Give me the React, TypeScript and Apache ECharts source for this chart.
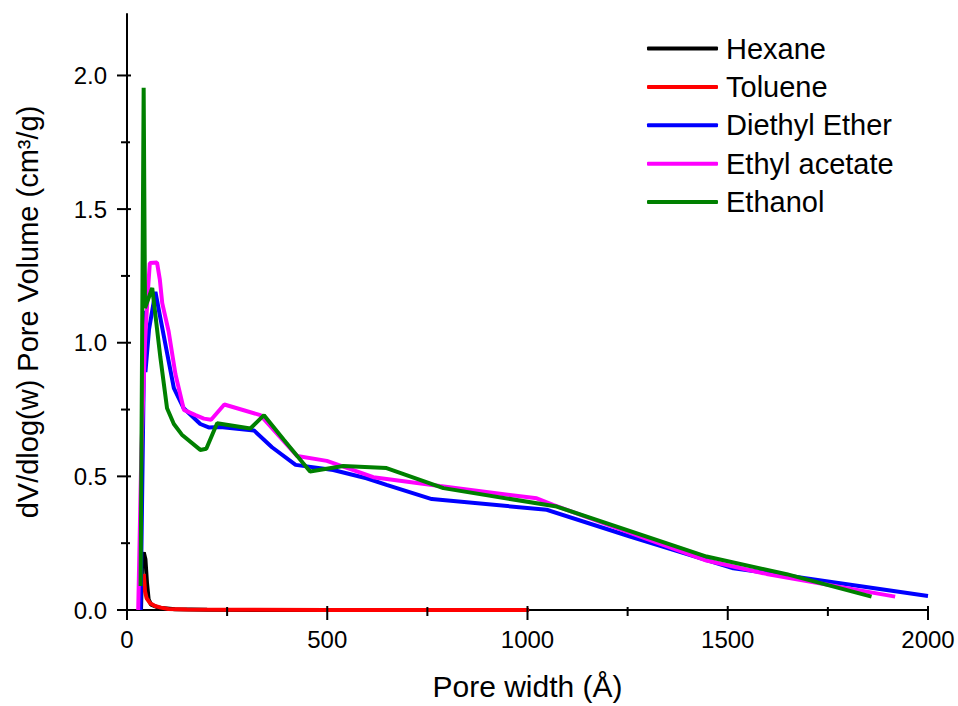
import React, { useEffect, useRef } from "react";
import * as echarts from "echarts";

// Pore width (Å) / dV/dlog(w) pairs
const hexaneX = [35, 38, 42, 46, 50, 54, 60, 80, 120, 200, 400, 700, 1000];
const hexaneY = [0.0, 0.2, 0.215, 0.19, 0.1, 0.04, 0.02, 0.008, 0.003, 0.001, 0.0, 0.0, 0.0];

const tolueneX = [42, 45, 49, 58, 70, 85, 103, 150, 250, 500, 1004];
const tolueneY = [0.135, 0.07, 0.044, 0.025, 0.015, 0.009, 0.004, 0.002, 0.001, 0.0, 0.0];

const etherX = [34, 44, 46, 55, 71, 83, 100, 117, 141, 183, 204, 233, 317, 362, 421, 515, 598, 648, 761, 1048, 1256, 1514, 1647, 2000];
const etherY = [0.0, 1.12, 0.89, 1.05, 1.19, 1.095, 0.962, 0.83, 0.756, 0.696, 0.683, 0.685, 0.672, 0.609, 0.543, 0.524, 0.493, 0.468, 0.415, 0.375, 0.275, 0.156, 0.129, 0.052];

const acetateX = [28, 36, 45, 52, 57, 75, 82, 88, 104, 121, 142, 171, 192, 210, 243, 333, 425, 499, 615, 781, 1023, 1064, 1181, 1447, 1597, 1918];
const acetateY = [0.0, 0.6, 1.0, 1.19, 1.298, 1.3, 1.236, 1.148, 1.042, 0.882, 0.749, 0.729, 0.716, 0.712, 0.769, 0.729, 0.576, 0.558, 0.497, 0.464, 0.418, 0.393, 0.33, 0.185, 0.135, 0.05];

const ethanolX = [34, 41.6, 45, 63, 83, 100, 117, 137, 183, 198, 225, 308, 342, 392, 457, 540, 648, 790, 1073, 1447, 1647, 1859];
const ethanolY = [0.09, 1.954, 1.13, 1.205, 0.949, 0.755, 0.696, 0.656, 0.599, 0.603, 0.699, 0.679, 0.729, 0.636, 0.518, 0.539, 0.531, 0.456, 0.387, 0.2, 0.134, 0.05];

const seriesNames = ["Hexane", "Toluene", "Diethyl Ether", "Ethyl acetate", "Ethanol"];
const seriesColors = ["#000000", "#ff0000", "#0000ff", "#ff00ff", "#008000"];

const xMajorTicks = [0, 500, 1000, 1500, 2000];
const xMinorTicks = [250, 750, 1250, 1750];
const yMajorTicks = [0, 0.5, 1.0, 1.5, 2.0];
const yMinorTicks = [0.25, 0.75, 1.25, 1.75];

const FONT = "'Liberation Sans', Arial, sans-serif";

function pairs(xs: number[], ys: number[]) {
  return xs.map((x, i) => [x, ys[i]]);
}

export default function App() {
  const ref = useRef<HTMLDivElement>(null);
  useEffect(() => {
    if (!ref.current) return;
    const chart = echarts.init(ref.current, undefined, { renderer: "svg" });
    const datasets = [
      pairs(hexaneX, hexaneY),
      pairs(tolueneX, tolueneY),
      pairs(etherX, etherY),
      pairs(acetateX, acetateY),
      pairs(ethanolX, ethanolY),
    ];
    // tick items: [x, y, kind]  kind 0 = x major, 1 = x minor, 2 = y major, 3 = y minor
    const tickData = [
      ...xMajorTicks.map((v) => [v, 0, 0]),
      ...xMinorTicks.map((v) => [v, 0, 1]),
      ...yMajorTicks.map((v) => [0, v, 2]),
      ...yMinorTicks.map((v) => [0, v, 3]),
    ];
    const lineSeries = seriesNames.map((name, i) => ({
      name,
      type: "line",
      data: datasets[i],
      showSymbol: false,
      symbol: "none",
      lineStyle: { color: seriesColors[i], width: 4 },
      itemStyle: { color: seriesColors[i] },
      z: 2 + i,
    }));
    chart.setOption({
      animation: false,
      backgroundColor: "#ffffff",
      grid: { left: 127, right: 30, top: 14, bottom: 96, containLabel: false },
      legend: {
        orient: "vertical",
        left: 642,
        top: 29,
        icon: "roundRect",
        itemWidth: 71,
        itemHeight: 4,
        itemGap: 9.4,
        data: seriesNames,
        textStyle: {
          fontFamily: FONT,
          fontSize: 29,
          lineHeight: 29,
          color: "#000",
          padding: [0, 0, 0, 3],
        },
      },
      xAxis: {
        type: "value",
        min: 0,
        max: 2000,
        interval: 500,
        name: "Pore width (Å)",
        nameLocation: "middle",
        nameGap: 61,
        nameTextStyle: { fontFamily: FONT, fontSize: 30, color: "#000" },
        axisLine: { show: true, onZero: false, lineStyle: { color: "#000", width: 2 } },
        axisTick: { show: false },
        axisLabel: {
          fontFamily: FONT,
          fontSize: 24,
          color: "#000",
          margin: 17,
          formatter: (v: number) => String(v),
        },
        splitLine: { show: false },
      },
      yAxis: {
        type: "value",
        min: 0,
        max: 2.23,
        interval: 0.5,
        name: "dV/dlog(w) Pore Volume (cm³/g)",
        nameLocation: "middle",
        nameGap: 85,
        nameRotate: 90,
        nameTextStyle: { fontFamily: FONT, fontSize: 29, color: "#000" },
        axisLine: { show: true, onZero: false, lineStyle: { color: "#000", width: 2 } },
        axisTick: { show: false },
        axisLabel: {
          fontFamily: FONT,
          fontSize: 24,
          color: "#000",
          margin: 20,
          showMaxLabel: false,
          formatter: (v: number) => (Math.abs(v * 2 - Math.round(v * 2)) < 1e-6 ? v.toFixed(1) : ""),
        },
        splitLine: { show: false },
      },
      series: [
        ...lineSeries,
        {
          type: "custom",
          name: "ticks",
          coordinateSystem: "cartesian2d",
          clip: false,
          silent: true,
          z: 10,
          data: tickData,
          renderItem: (params: any, api: any) => {
            const kind = Number(api.value(2));
            const p = api.coord([api.value(0), api.value(1)]);
            const major = kind === 0 || kind === 2;
            const outLen = major ? 10 : 6;
            const inLen = major ? 4 : 3;
            const shape =
              kind < 2
                ? { x1: p[0], y1: p[1] - inLen, x2: p[0], y2: p[1] + outLen }
                : { x1: p[0] - outLen, y1: p[1], x2: p[0] + inLen, y2: p[1] };
            return {
              type: "line",
              shape,
              style: { stroke: "#000", lineWidth: 2, fill: null },
            };
          },
        },
      ],
    });
    return () => chart.dispose();
  }, []);
  return (
    <div
      ref={ref}
      style={{ position: "fixed", left: 0, top: 0, width: 958, height: 706, background: "#fff" }}
    />
  );
}
